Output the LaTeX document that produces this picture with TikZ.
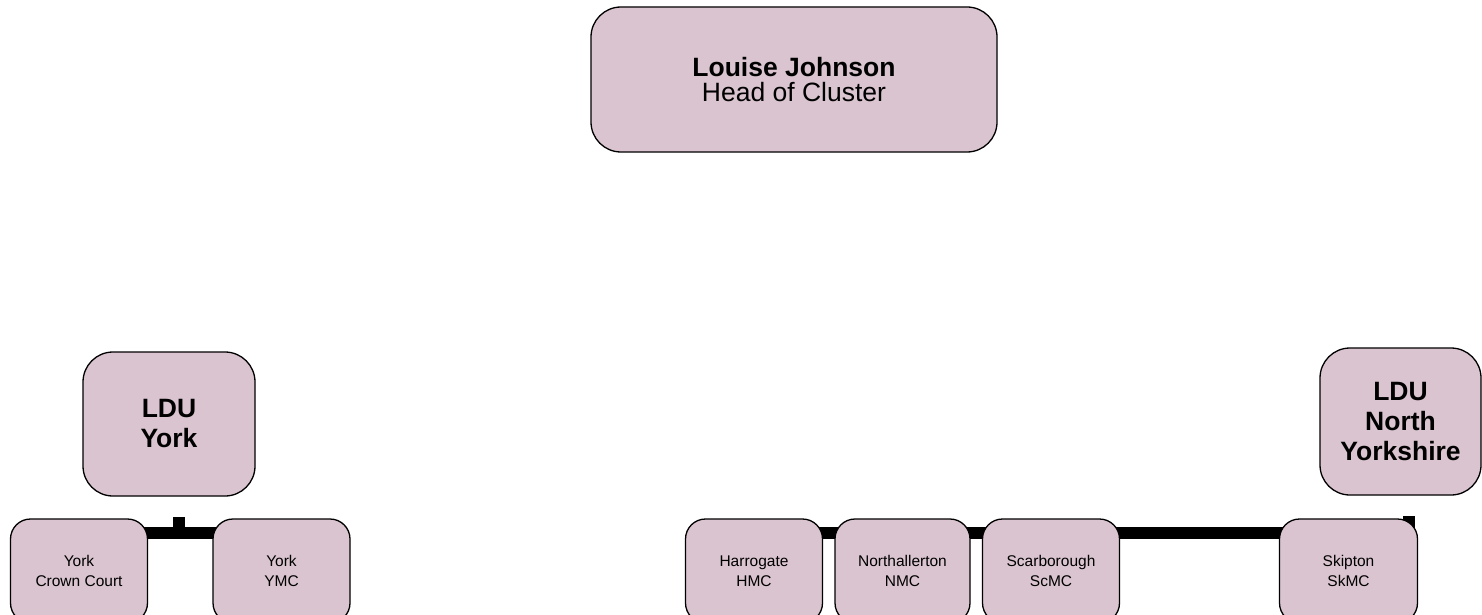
\documentclass[tikz,border=0pt]{standalone}
\usepackage{fontspec}
\setmainfont{Liberation Sans}
\usetikzlibrary{backgrounds}
\definecolor{boxpink}{RGB}{218,196,207}
\tikzset{
  unit/.style={draw=black,line width=1.3pt,fill=boxpink,rounded corners=#1,
    align=center,inner sep=0pt},
  headbox/.style={unit=30pt,minimum width=406pt,minimum height=145pt,
    font=\fontsize{26.5}{25}\selectfont},
  ldubox/.style={unit=30pt,font=\bfseries\fontsize{26.5}{30}\selectfont},
  sitebox/.style={unit=20pt,minimum width=137pt,minimum height=104pt,
    font=\fontsize{15.5}{20}\selectfont},
  bar/.style={line width=12pt},
}
\begin{document}
\begin{tikzpicture}[x=1pt,y=-1pt]
  \useasboundingbox (0,0) rectangle (1482,615);
  \clip (0,0) rectangle (1482,615);

  % Leitung
  \node[headbox] (head) at (794,79.5) {\textbf{Louise Johnson}\\Head of Cluster};

  % LDU
  \node[ldubox,minimum width=172pt,minimum height=144pt] (york) at (169,424) {LDU\\York};
  \node[ldubox,minimum width=161pt,minimum height=147pt] (nyorks) at (1400.5,421.5) {LDU\\North\\Yorkshire};

  % Standorte York
  \node[sitebox] (crown) at (79,571) {York\\Crown Court};
  \node[sitebox] (ymc) at (281.5,571) {York\\YMC};

  % Standorte North Yorkshire
  \node[sitebox] (hmc) at (754,571) {Harrogate\\HMC};
  \node[sitebox,minimum width=135pt] (nmc) at (902.5,571) {Northallerton\\NMC};
  \node[sitebox] (scmc) at (1051,571) {Scarborough\\ScMC};
  \node[sitebox,minimum width=138pt] (skmc) at (1348.5,571) {Skipton\\SkMC};

  \coordinate (yorktap) at (179,517);
  \coordinate (yorkjoin) at (179,533);
  \coordinate (nytap) at (1408.5,516);
  \coordinate (nyjoin) at (1408.5,533);

  % Verbinder hinter den Kaesten
  \begin{scope}[on background layer]
    \draw[bar] (crown.center |- yorkjoin) -- (ymc.center |- yorkjoin);
    \draw[bar,line cap=butt] (yorktap) -- ([yshift=6pt]yorkjoin);
    \draw[bar] (hmc.center |- nyjoin) -- ([xshift=6pt]nyjoin);
    \draw[bar,line cap=butt] (nytap) -- ([yshift=6pt]nyjoin);
  \end{scope}
\end{tikzpicture}
\end{document}
